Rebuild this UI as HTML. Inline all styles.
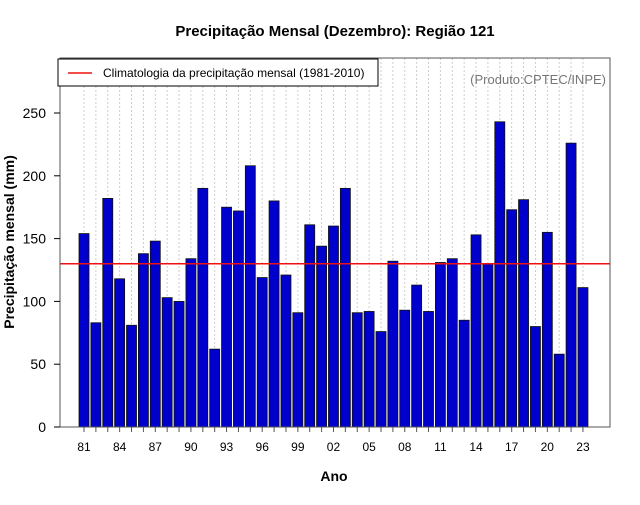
<!DOCTYPE html>
<html><head><meta charset="utf-8"><style>
body{margin:0;background:#fff;}
svg text{font-family:"Liberation Sans",sans-serif;}
</style></head><body>
<svg id="chart" width="640" height="500" xmlns="http://www.w3.org/2000/svg">
<rect width="640" height="500" fill="#fff"/>
<text x="335" y="36" text-anchor="middle" font-size="15" font-weight="bold">Precipitação Mensal (Dezembro): Região 121</text>
<g id="grid"></g>
<g id="bars"></g>
<line id="clim" x1="60" x2="610" stroke="#ee1111" stroke-width="1.5"/>
<rect x="60" y="58" width="550" height="369" fill="none" stroke="#555" stroke-width="1"/>
<g id="axes"></g>
<g>
<rect x="58" y="59" width="320" height="27" fill="#fff" stroke="#000" stroke-width="1"/>
<line x1="68" x2="92" y1="73" y2="73" stroke="#ee1111" stroke-width="1.5"/>
<text x="103" y="77" font-size="12">Climatologia da precipitação mensal (1981-2010)</text>
</g>
<text x="606" y="84" text-anchor="end" font-size="13" fill="#777">(Produto:CPTEC/INPE)</text>
<text x="334" y="481" text-anchor="middle" font-size="14" font-weight="bold">Ano</text>
<text transform="translate(14,242) rotate(-90)" text-anchor="middle" font-size="14" font-weight="bold">Precipitação mensal (mm)</text>
</svg>
<script>
const years=["81","82","83","84","85","86","87","88","89","90","91","92","93","94","95","96","97","98","99","00","01","02","03","04","05","06","07","08","09","10","11","12","13","14","15","16","17","18","19","20","21","22","23"];
const values=[154,83,182,118,81,138,148,103,100,134,190,62,175,172,208,119,180,121,91,161,144,160,190,91,92,76,132,93,113,92,131,134,85,153,130,243,173,181,80,155,58,226,111];
const climatology=[130];
const yTicks=[0,50,100,150,200,250];
const xTickLabels=["81","84","87","90","93","96","99","02","05","08","11","14","17","20","23"];
const NS="http://www.w3.org/2000/svg";
const yS=v=>427-v*1.256;
const xS=i=>84+i*11.88;
function mk(t,a,p){const e=document.createElementNS(NS,t);for(const k in a)e.setAttribute(k,a[k]);p.appendChild(e);return e;}
const grid=document.getElementById('grid'),bars=document.getElementById('bars'),axes=document.getElementById('axes');
years.forEach((y,i)=>{
 const g=mk('line',{x1:xS(i),x2:xS(i),y1:58,y2:427,stroke:'#ccc','stroke-dasharray':'2,2'},grid);
 
 
 const b=mk('rect',{x:xS(i)-5,y:yS(values[i]),width:10,height:values[i]*1.256,fill:'#0000cc',stroke:'#111','stroke-width':0.8},bars);
 
 
 const t=mk('line',{x1:xS(i),x2:xS(i),y1:427,y2:432,stroke:'#555'},axes);
 
 
 if(xTickLabels.includes(y)){
  const l=mk('text',{x:xS(i),y:451,'text-anchor':'middle','font-size':12},axes);l.textContent=y;
  
  
 }
});
const c=document.getElementById('clim');c.setAttribute('y1',yS(climatology[0]));c.setAttribute('y2',yS(climatology[0]));
yTicks.forEach(v=>{
 const t=mk('line',{x1:54,x2:60,y1:yS(v),y2:yS(v),stroke:'#000'},axes);
 
 
 const l=mk('text',{x:46,y:yS(v)+5,'text-anchor':'end','font-size':14},axes);l.textContent=v;
 
 
});
</script>
</body></html>
